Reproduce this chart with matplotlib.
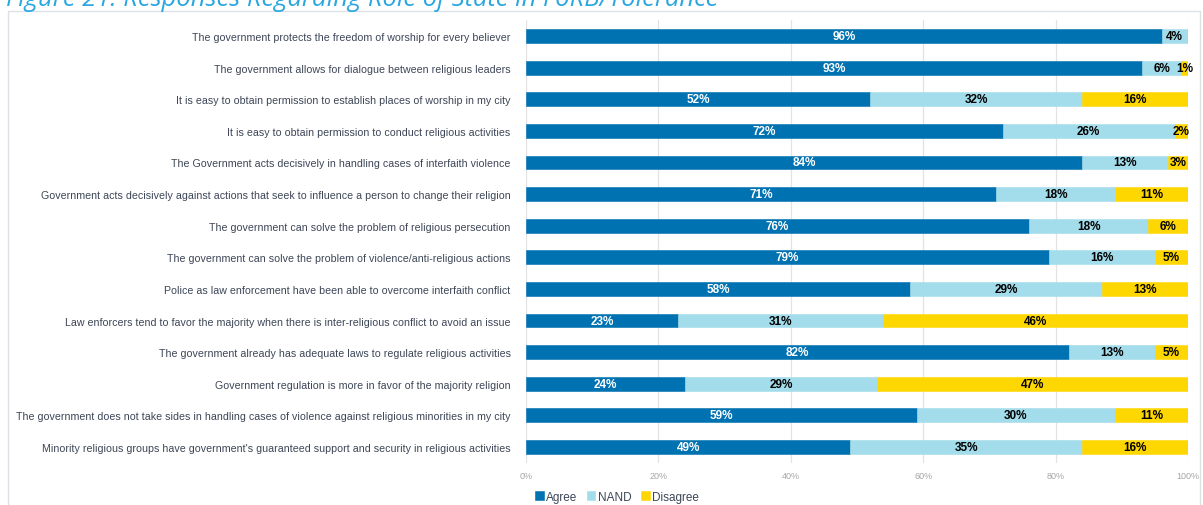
import matplotlib.pyplot as plt
from matplotlib.patches import Rectangle
import numpy as np

statements = [
    "The government protects the freedom of worship for every believer",
    "The government allows for dialogue between religious leaders",
    "It is easy to obtain permission to establish places of worship in my city",
    "It is easy to obtain permission to conduct religious activities",
    "The Government acts decisively in handling cases of interfaith violence",
    "Government acts decisively against actions that seek to influence a person to change their religion",
    "The government can solve the problem of religious persecution",
    "The government can solve the problem of violence/anti-religious actions",
    "Police as law enforcement have been able to overcome interfaith conflict",
    "Law enforcers tend to favor the majority when there is inter-religious conflict to avoid an issue",
    "The government already has adequate laws to regulate religious activities",
    "Government regulation is more in favor of the majority religion",
    "The government does not take sides in handling cases of violence against religious minorities in my city",
    "Minority religious groups have government's guaranteed support and security in religious activities",
]
agree = [96, 93, 52, 72, 84, 71, 76, 79, 58, 23, 82, 24, 59, 49]
nand = [4, 6, 32, 26, 13, 18, 18, 16, 29, 31, 13, 29, 30, 35]
disagree = [0, 1, 16, 2, 3, 11, 6, 5, 13, 46, 5, 47, 11, 16]

series = [("Agree", agree, "#0071b1", "white"),
          ("NAND", nand, "#a3dcea", "black"),
          ("Disagree", disagree, "#ffd700", "black")]

font = ["Liberation Sans", "DejaVu Sans"]

fig = plt.figure(figsize=(12.03, 5.06), dpi=100)
ax = fig.add_axes([526 / 1203, 1 - 463.8 / 506, 662 / 1203, (463.8 - 21.2) / 506])

# outer frame of the figure panel
fig.add_artist(Rectangle((8 / 1203, -0.1), (1200 - 8) / 1203, 1.1 - 12 / 506,
                         transform=fig.transFigure, fill=False,
                         edgecolor="#dde1e6", linewidth=1.0))
fig.text(0.005, 1 - 6 / 506, "Figure 21: Responses Regarding Role of State in FoRB/Tolerance",
         family="Open Sans", style="italic", fontsize=18.4, color="#2aa7df",
         va="baseline", ha="left")

y = np.arange(len(statements))
left = np.zeros(len(statements))
for name, vals, color, tcolor in series:
    vals = np.array(vals, dtype=float)
    ax.barh(y, vals, left=left, height=0.44, color=color, label=name,
            edgecolor=color, linewidth=0.4, zorder=3)
    for yi, l, v in zip(y, left, vals):
        if v > 0:
            ax.text(l + v / 2, yi, f"{int(v)}%", ha="center", va="center",
                    color=tcolor, fontsize=8.5, fontweight="bold",
                    family=font, zorder=4)
    left += vals

ax.set_ylim(len(statements) - 0.5, -0.5)
ax.set_xlim(0, 100)
ax.set_yticks(y)
ax.set_yticklabels(statements, family=font, fontsize=7.7, color="#3d4657")
ax.set_xticks(range(0, 101, 20))
ax.set_xticklabels([f"{t}%" for t in range(0, 101, 20)], family=font,
                   fontsize=6.5, color="#a6a6a6")
ax.tick_params(axis="both", length=0)
ax.tick_params(axis="x", pad=6)
ax.tick_params(axis="y", pad=11)
ax.grid(axis="x", color="#e3e3e3", linewidth=0.9, zorder=0)
for s in ax.spines.values():
    s.set_visible(False)

leg = ax.legend(loc="upper left", bbox_to_anchor=(0.006, -0.052), ncol=3,
                frameon=False, handlelength=0.75, handleheight=0.75,
                handletextpad=0.2, columnspacing=0.8, borderaxespad=0,
                prop={"family": font, "size": 8.5})
for t in leg.get_texts():
    t.set_color("#3d4657")

fig.savefig("out.png", dpi=100)
